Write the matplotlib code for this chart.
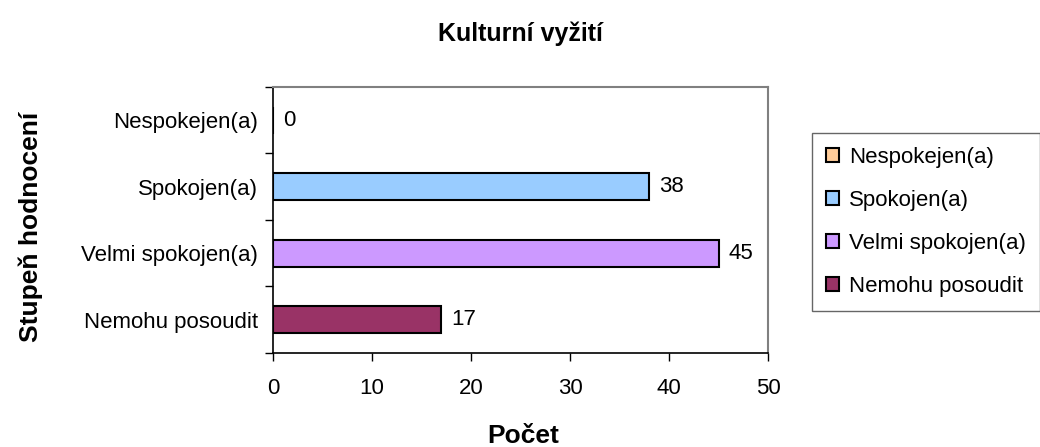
import matplotlib.pyplot as plt
from matplotlib.patches import Patch

plt.rcParams['font.family'] = ['Liberation Sans', 'DejaVu Sans']

categories = ['Nespokejen(a)', 'Spokojen(a)', 'Velmi spokojen(a)', 'Nemohu posoudit']
values = [0, 38, 45, 17]
colors = ['#FFCC99', '#99CCFF', '#CC99FF', '#993366']
xticks = [0, 10, 20, 30, 40, 50]

fig = plt.figure(figsize=(10.4, 4.47), dpi=100)
ax = fig.add_axes([0.2625, 0.2103, 0.476, 0.5951])

pos = list(range(len(categories)))[::-1]
bars = ax.barh(pos, values, height=0.41, color=colors, edgecolor='black', linewidth=1.5)
ax.bar_label(bars, labels=[str(v) for v in values], padding=7, fontsize=16)

ax.set_xlim(0, 50)
ax.set_ylim(-0.5, 3.5)
ax.set_xticks(xticks)
ax.set_yticks(pos)
ax.set_yticklabels(categories)
ax.set_yticks([-0.5, 0.5, 1.5, 2.5, 3.5], minor=True)
ax.tick_params(axis='y', which='major', length=0, pad=11, labelsize=16)
ax.tick_params(axis='y', which='minor', length=6, direction='out', width=1)
ax.tick_params(axis='x', length=6, direction='out', width=1, pad=12, labelsize=16)

for s in ['top', 'right']:
    ax.spines[s].set_color('#808080')
    ax.spines[s].set_linewidth(1.5)
for s in ['left', 'bottom']:
    ax.spines[s].set_color('black')
    ax.spines[s].set_linewidth(1.2)

fig.text(0.5, 0.925, 'Kulturní vyžití', ha='center', va='center', fontsize=18, fontweight='bold')
fig.text(0.503, 0.025, 'Počet', ha='center', va='center', fontsize=19, fontweight='bold')
fig.text(0.030, 0.492, 'Stupeň hodnocení', ha='center', va='center', rotation=90,
         fontsize=19, fontweight='bold')

handles = [Patch(facecolor=c, edgecolor='black', linewidth=1.5) for c in colors]
leg = fig.legend(handles, categories, loc='upper left', bbox_to_anchor=(0.781, 0.703),
                 fontsize=16, frameon=True, fancybox=False, edgecolor='#404040',
                 handlelength=0.6, handleheight=0.6, handletextpad=0.45,
                 labelspacing=1.0, borderpad=0.62, borderaxespad=0)
leg.get_frame().set_linewidth(1.0)

fig.savefig('out.png', dpi=100)
